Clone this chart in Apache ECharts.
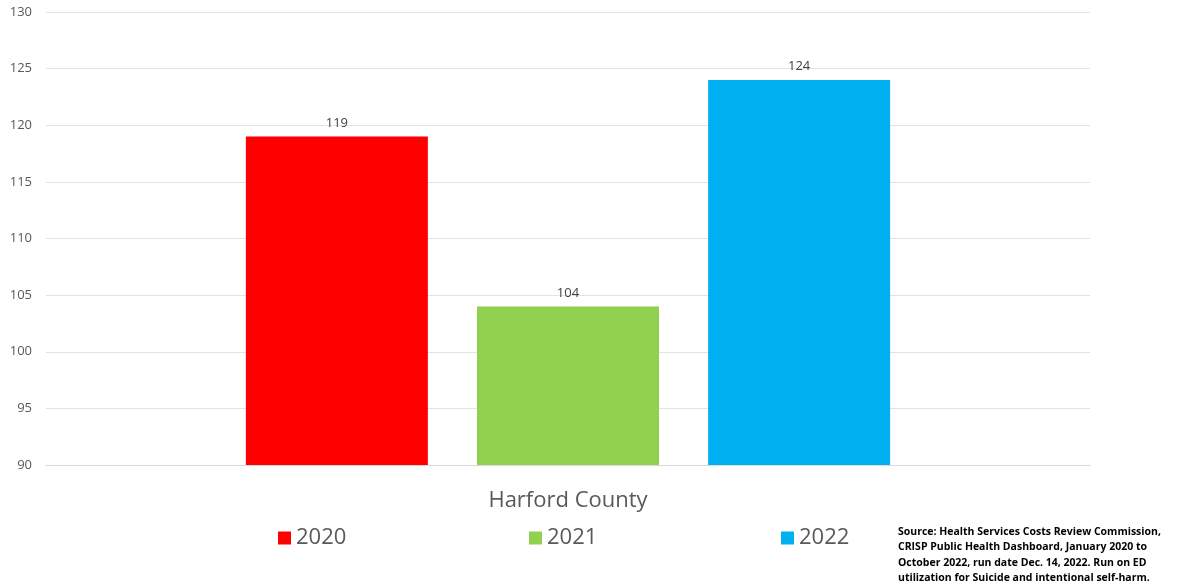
<!DOCTYPE html>
<html>
<head>
<meta charset="utf-8">
<script src="https://cdn.jsdelivr.net/npm/echarts@6/dist/echarts.min.js"></script>
<style>
  html, body { margin: 0; padding: 0; background: #fff; }
  #chart { width: 1182px; height: 588px; }
</style>
</head>
<body>
<div id="chart"></div>
<script>
const categories = ['Harford County']
const years = ['2020', '2021', '2022']
const values = [119, 104, 124]
const colors = ['#ff0000', '#92d050', '#00b0f0']
const yTicks = [90, 130, 5] // min, max, step

const sourceLines = [
  'Source: Health Services Costs Review Commission,',
  'CRISP Public Health Dashboard, January 2020 to',
  'October 2022, run date Dec. 14, 2022. Run on ED',
  'utilization for Suicide and intentional self-harm.'
]

const font = '"Open Sans", "Liberation Sans", sans-serif'
const myChart = echarts.init(document.getElementById('chart'))

// one legend per year so the wide spacing matches
const legendLeft = [273, 524, 776]

let option = {
  animation: false,
  textStyle: {fontFamily: font},
  grid: {
    left: 46,
    right: 92,
    top: 12,
    bottom: 123
  },
  legend: years.map((y, i) => ({
    data: [y],
    left: legendLeft[i],
    top: 522,
    icon: 'rect',
    itemWidth: 13,
    itemHeight: 13,
    itemGap: 8,
    textStyle: {fontSize: 22, color: '#595959', fontFamily: font}
  })),
  xAxis: {
    type: 'category',
    data: categories,
    axisLine: {show: true, lineStyle: {color: '#d9d9d9'}},
    axisTick: {show: false},
    axisLabel: {
      fontSize: 22,
      color: '#595959',
      margin: 25
    }
  },
  yAxis: {
    type: 'value',
    min: yTicks[0],
    max: yTicks[1],
    interval: yTicks[2],
    axisLine: {show: false},
    axisTick: {show: false},
    axisLabel: {
      fontSize: 13,
      color: '#595959',
      margin: 14
    },
    splitLine: {lineStyle: {color: '#e3e3e3'}}
  },
  series: years.map((y, i) => ({
    name: y,
    type: 'bar',
    barWidth: 182,
    barGap: '27%',
    itemStyle: {color: colors[i]},
    label: {
      show: true,
      position: 'top',
      distance: 7,
      fontSize: 13,
      color: '#404040'
    },
    data: [values[i]]
  })),
  graphic: [{
    type: 'text',
    left: 898,
    top: 524,
    style: {
      text: sourceLines.join('\n'),
      font: 'bold 10.5px ' + font,
      lineHeight: 15.5,
      fill: '#000'
    }
  }]
}
myChart.setOption(option)
</script>
</body>
</html>
